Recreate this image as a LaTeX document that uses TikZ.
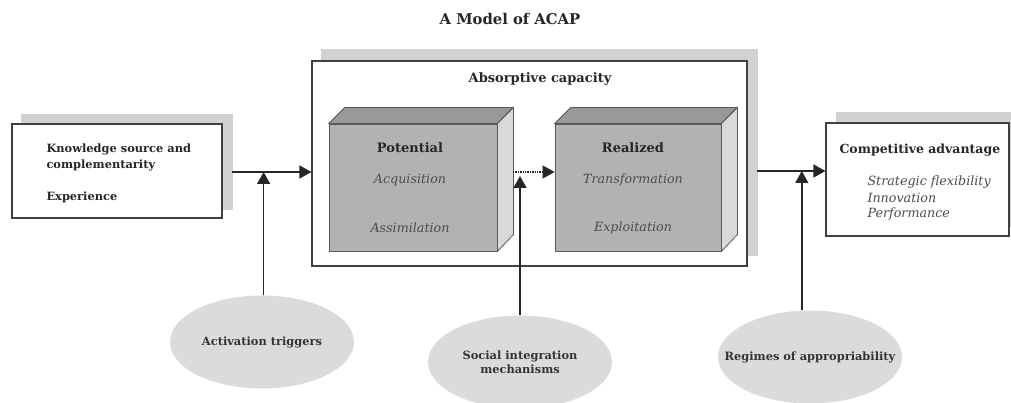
\documentclass[tikz,border=0pt]{standalone}
\usepackage{fontspec}
\setmainfont{DejaVu Serif}
\usetikzlibrary{arrows.meta,positioning,shapes.geometric,backgrounds}

\begin{document}
\begin{tikzpicture}[x=1pt, y=-1pt, >={Triangle[length=12pt,width=13pt]},
  box/.style={draw=black!75, line width=1.1pt, fill=white, inner sep=0pt},
  shade/.style={fill=black!18},
  face/.style={draw=black!65, line width=0.8pt, fill=black!30, inner sep=0pt},
  oval/.style={ellipse, fill=black!14, inner sep=0pt, minimum width=184pt,
    minimum height=93pt, align=center, text=black!80,
    font=\bfseries\fontsize{11.4}{14}\selectfont},
  head/.style={font=\bfseries\fontsize{11.4}{14}\selectfont, text=black!85},
  bighead/.style={font=\bfseries\fontsize{13}{15}\selectfont, text=black!85},
  item/.style={font=\itshape\fontsize{12.7}{15}\selectfont, text=black!70},
  conn/.style={->, line width=1.4pt, black!85}]
  \useasboundingbox (0,0) rectangle (1011,403);
  % Title
  \node[font=\bfseries\fontsize{14.8}{17}\selectfont, text=black!85] (title) at (510,19) {A Model of ACAP};
  % Left box: antecedents
  \node[box, minimum width=210pt, minimum height=94pt] (src) at (117,171) {};
  \node[head, anchor=west] (ks1) at (43,149) {Knowledge source and};
  \node[head, anchor=west] (ks2) at (43,165) {complementarity};
  \node[head, anchor=west] (exp) at (43,197) {Experience};
  % Middle box: absorptive capacity
  \node[box, minimum width=435pt, minimum height=205pt] (acap) at (529.5,163.5) {};
  \node[bighead] (acapT) at (540,79) {Absorptive capacity};
  % Potential cube
  \node[face, minimum width=168pt, minimum height=127pt] (pot) at (413,187.5) {};
  \filldraw[face, fill=black!40] (pot.north west) -- ++(16,-16) -- ++(168,0) -- (pot.north east) -- cycle;
  \filldraw[face, fill=black!15] (pot.north east) -- ++(16,-16) -- ++(0,127) -- (pot.south east) -- cycle;
  \node[bighead] (potT) at (410,148) {Potential};
  \node[item] (acq) at (410,180) {Acquisition};
  \node[item] (ass) at (410,228) {Assimilation};
  % Realized cube
  \node[face, minimum width=166pt, minimum height=127pt] (rea) at (638,187.5) {};
  \filldraw[face, fill=black!40] (rea.north west) -- ++(16,-16) -- ++(166,0) -- (rea.north east) -- cycle;
  \filldraw[face, fill=black!15] (rea.north east) -- ++(16,-16) -- ++(0,127) -- (rea.south east) -- cycle;
  \node[bighead] (reaT) at (633,148) {Realized};
  \node[item] (tra) at (633,180) {Transformation};
  \node[item] (exl) at (633,228) {Exploitation};
  % Right box: outcomes
  \node[box, minimum width=183pt, minimum height=113pt] (comp) at (917.5,179.5) {};
  \node[head, anchor=west, font=\bfseries\fontsize{12.5}{15}\selectfont] (compT) at (836,150) {Competitive advantage};
  \node[item, anchor=west] (flex) at (864,182) {Strategic flexibility};
  \node[item, anchor=west] (inno) at (864,198) {Innovation};
  \node[item, anchor=west] (perf) at (864,214) {Performance};
  % Moderators
  \node[oval] (act) at (262,342) {Activation triggers};
  \node[oval] (soc) at (520,362) {Social integration\\mechanisms};
  \node[oval, inner xsep=-21pt] (reg) at (810,357) {Regimes of appropriability};
  % Shadows
  \begin{scope}[on background layer]
    \fill[shade] ([shift={(10,-9)}]src.south west) rectangle ([shift={(10,-9)}]src.north east);
    \fill[shade] ([shift={(10,-11)}]acap.south west) rectangle ([shift={(10,-11)}]acap.north east);
    \fill[shade] ([shift={(11,-10)}]comp.south west) rectangle ([shift={(11,-10)}]comp.north east);
  \end{scope}
  % Arrows
  \coordinate (inL) at (232,172);
  \coordinate (dL) at (513,172);
  \coordinate (outR) at (757,171);
  \draw[conn] (inL) -- (acap.west |- inL);
  \draw[conn, densely dotted, line width=1.1pt] (dL) -- (rea.west |- dL);
  \draw[conn] (outR) -- (comp.west |- outR);
  \draw[conn] (act.88) -- (act.88 |- inL);
  \draw[conn, shorten >=4pt] (soc.north) -- (soc.north |- dL);
  \draw[conn] (reg.100) -- (reg.100 |- outR);
\end{tikzpicture}
\end{document}
